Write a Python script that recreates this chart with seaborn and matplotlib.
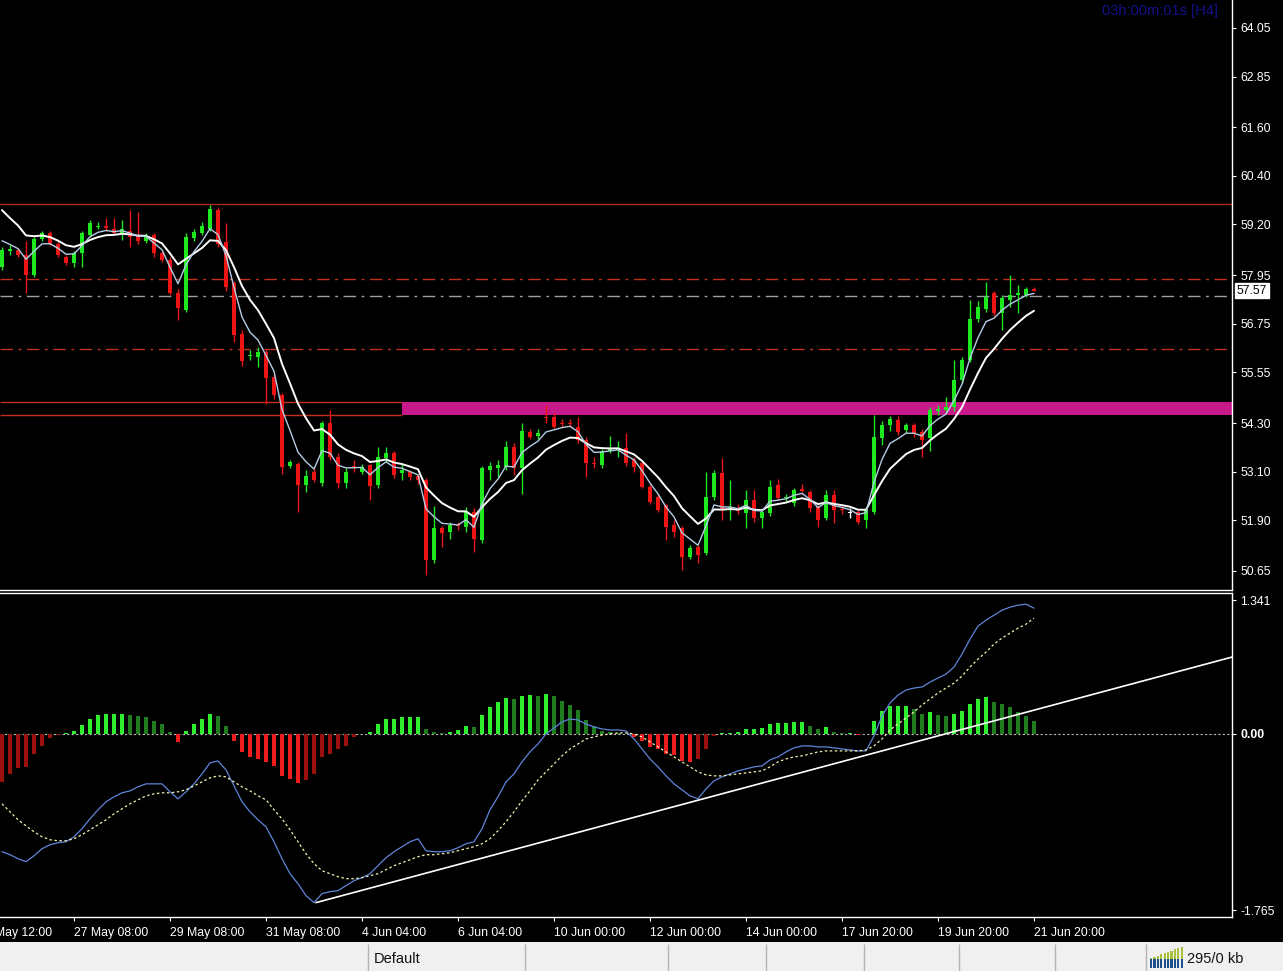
import numpy as np
import pandas as pd
import matplotlib
matplotlib.use("Agg")
import matplotlib.pyplot as plt
import matplotlib.transforms as mtransforms
import seaborn as sns

# H4 candles, bar 0 is the leftmost visible one
opens = [58.16, 58.55, 58.57, 58.45, 57.95, 58.83, 59.00, 58.73, 58.40, 58.24,
         58.49, 58.95, 59.13, 59.17, 59.08, 58.98, 59.05, 58.92, 58.80, 58.94,
         58.49, 58.33, 57.52, 57.09, 58.86, 59.00, 59.10, 59.56, 58.77, 57.75,
         56.50, 55.95, 55.94, 56.06, 55.44, 54.99, 53.24, 53.30, 52.77, 53.10,
         52.81, 54.29, 53.47, 52.81, 53.25, 53.10, 53.26, 52.77, 53.43, 53.55,
         53.06, 53.10, 53.00, 52.90, 50.92, 51.70, 51.62, 51.78, 51.74, 52.11,
         51.41, 53.14, 53.18, 53.22, 53.72, 53.18, 54.09, 53.97, 54.46, 54.46,
         54.30, 54.30, 54.21, 53.88, 53.30, 53.27, 53.60, 53.63, 53.68, 53.39,
         53.31, 52.73, 52.48, 52.28, 51.78, 51.70, 51.00, 51.25, 51.09, 52.48,
         53.06, 52.20, 52.17, 52.07, 52.40, 51.95, 52.07, 52.77, 52.45, 52.32,
         52.67, 52.61, 52.24, 51.95, 52.52, 52.17, 52.08, 52.11, 51.91, 52.11,
         53.92, 54.25, 54.37, 54.13, 54.25, 54.09, 53.92, 54.60, 54.62, 54.70,
         55.36, 55.86, 56.86, 57.11, 57.50, 57.01, 57.34, 57.46, 57.46, 57.62]
highs = [58.65, 58.70, 58.62, 58.80, 58.90, 59.05, 59.05, 58.80, 58.45, 58.55,
         59.03, 59.30, 59.25, 59.35, 59.35, 59.31, 59.55, 59.50, 58.98, 58.98,
         58.55, 58.40, 57.60, 59.00, 59.10, 59.25, 59.68, 59.62, 59.23, 57.80,
         56.60, 56.10, 56.18, 56.12, 55.50, 55.05, 53.40, 53.35, 53.14, 53.20,
         54.35, 54.62, 53.55, 53.20, 53.40, 53.30, 53.30, 53.72, 53.70, 53.60,
         53.30, 53.15, 53.05, 52.95, 52.25, 51.75, 51.85, 51.85, 52.22, 52.20,
         53.25, 53.35, 53.40, 53.85, 53.80, 54.29, 54.15, 54.15, 54.75, 54.55,
         54.40, 54.40, 54.46, 53.95, 53.45, 53.65, 53.98, 53.85, 54.05, 53.45,
         53.35, 52.80, 52.55, 52.30, 51.90, 51.75, 51.30, 51.30, 53.10, 53.14,
         53.43, 52.90, 52.30, 52.65, 52.65, 52.15, 52.90, 52.93, 52.55, 52.70,
         52.80, 52.65, 52.28, 52.65, 52.65, 52.25, 52.20, 52.15, 52.20, 54.50,
         54.35, 54.47, 54.47, 54.30, 54.30, 54.15, 54.70, 54.75, 54.95, 55.86,
         55.94, 57.34, 57.30, 57.77, 57.55, 57.45, 57.95, 57.70, 57.66, 57.66]
lows = [58.08, 58.45, 58.40, 57.50, 57.90, 58.80, 58.70, 58.40, 58.20, 58.15,
        58.16, 58.90, 59.10, 59.05, 58.95, 58.82, 58.65, 58.73, 58.75, 58.40,
        58.28, 57.45, 56.84, 57.05, 58.80, 58.95, 59.05, 58.65, 57.55, 56.30,
        55.70, 55.85, 55.69, 54.78, 54.90, 53.05, 53.20, 52.11, 52.61, 52.85,
        52.75, 53.40, 52.70, 52.70, 53.10, 53.05, 52.40, 52.70, 53.35, 52.95,
        52.90, 52.90, 52.80, 50.55, 50.85, 51.25, 51.45, 51.65, 51.62, 51.13,
        51.35, 52.90, 52.98, 53.15, 53.02, 52.56, 53.90, 53.90, 54.30, 54.15,
        54.20, 54.20, 53.80, 52.98, 53.20, 53.20, 53.55, 53.45, 53.25, 53.10,
        52.70, 52.30, 52.10, 51.41, 51.50, 50.67, 50.95, 50.84, 51.05, 52.40,
        51.90, 51.90, 52.05, 51.70, 51.85, 51.70, 52.00, 52.40, 52.35, 52.25,
        52.55, 52.10, 51.74, 51.90, 51.83, 52.05, 51.95, 51.80, 51.70, 52.05,
        53.76, 54.10, 54.00, 54.05, 53.95, 53.47, 53.60, 54.50, 54.55, 54.60,
        55.30, 55.80, 56.80, 57.05, 56.93, 56.60, 57.17, 57.01, 57.40, 57.55]
closes = [58.57, 58.57, 58.45, 57.95, 58.83, 59.00, 58.73, 58.45, 58.24, 58.49,
          58.98, 59.23, 59.17, 59.12, 58.98, 59.08, 58.90, 58.80, 58.90, 58.49,
          58.33, 57.50, 57.13, 58.90, 59.02, 59.16, 59.57, 58.73, 57.66, 56.47,
          55.82, 55.98, 56.06, 55.40, 54.99, 53.22, 53.35, 52.77, 52.99, 52.90,
          54.29, 53.47, 52.81, 53.10, 53.20, 53.22, 52.75, 53.47, 53.55, 53.02,
          53.14, 52.98, 52.90, 50.92, 51.70, 51.58, 51.78, 51.75, 52.11, 51.45,
          53.18, 53.24, 53.27, 53.72, 53.18, 54.11, 53.95, 54.05, 54.42, 54.21,
          54.27, 54.27, 53.88, 53.31, 53.28, 53.60, 53.65, 53.68, 53.31, 53.22,
          52.73, 52.36, 52.15, 51.74, 51.62, 51.00, 51.21, 51.05, 52.48, 53.06,
          52.15, 52.23, 52.12, 52.40, 51.95, 52.11, 52.73, 52.44, 52.48, 52.65,
          52.63, 52.20, 51.91, 52.52, 52.15, 52.15, 52.08, 51.87, 52.15, 53.96,
          54.25, 54.39, 54.09, 54.25, 54.05, 53.88, 54.62, 54.64, 54.70, 55.36,
          55.86, 56.86, 57.17, 57.40, 57.01, 57.38, 57.46, 57.50, 57.62, 57.57]

# MACD sub window
macd_hist = [-0.48, -0.40, -0.34, -0.33, -0.20, -0.12, -0.04, -0.01, 0.01, 0.03,
             0.09, 0.15, 0.19, 0.20, 0.20, 0.20, 0.19, 0.18, 0.17, 0.13,
             0.10, 0.02, -0.08, 0.03, 0.10, 0.15, 0.20, 0.18, 0.08, -0.07,
             -0.18, -0.23, -0.25, -0.28, -0.32, -0.42, -0.45, -0.49, -0.46, -0.40,
             -0.23, -0.20, -0.15, -0.12, -0.03, 0.00, 0.02, 0.10, 0.15, 0.15,
             0.17, 0.17, 0.17, 0.05, 0.02, 0.01, 0.02, 0.04, 0.08, 0.07,
             0.19, 0.27, 0.32, 0.36, 0.35, 0.38, 0.39, 0.38, 0.40, 0.38,
             0.33, 0.29, 0.24, 0.14, 0.08, 0.03, 0.02, 0.01, 0.00, -0.03,
             -0.07, -0.13, -0.15, -0.20, -0.21, -0.27, -0.28, -0.25, -0.15, -0.02,
             0.005, 0.01, 0.02, 0.05, 0.05, 0.06, 0.10, 0.11, 0.11, 0.12,
             0.12, 0.08, 0.05, 0.07, 0.02, 0.01, 0.01, -0.01, 0.00, 0.13,
             0.23, 0.28, 0.28, 0.28, 0.25, 0.20, 0.22, 0.19, 0.18, 0.20,
             0.23, 0.30, 0.35, 0.37, 0.32, 0.30, 0.27, 0.22, 0.18, 0.13]
macd_main = [-1.18, -1.21, -1.25, -1.28, -1.22, -1.15, -1.11, -1.09, -1.08, -1.03,
             -0.95, -0.85, -0.76, -0.68, -0.63, -0.59, -0.57, -0.53, -0.50, -0.50,
             -0.50, -0.58, -0.65, -0.58, -0.50, -0.40, -0.29, -0.27, -0.36, -0.52,
             -0.68, -0.78, -0.86, -0.93, -1.08, -1.25, -1.40, -1.50, -1.62, -1.69,
             -1.60, -1.58, -1.57, -1.52, -1.47, -1.44, -1.40, -1.32, -1.24, -1.18,
             -1.13, -1.08, -1.05, -1.17, -1.18, -1.18, -1.17, -1.14, -1.10, -1.08,
             -0.95, -0.76, -0.63, -0.48, -0.40, -0.28, -0.18, -0.10, 0.00, 0.06,
             0.12, 0.15, 0.14, 0.10, 0.07, 0.05, 0.04, 0.04, 0.03, -0.05,
             -0.15, -0.25, -0.33, -0.42, -0.50, -0.56, -0.62, -0.65, -0.55, -0.47,
             -0.43, -0.40, -0.37, -0.35, -0.33, -0.32, -0.26, -0.23, -0.18, -0.14,
             -0.12, -0.12, -0.13, -0.13, -0.14, -0.15, -0.16, -0.17, -0.17, -0.02,
             0.18, 0.31, 0.39, 0.44, 0.46, 0.47, 0.52, 0.56, 0.60, 0.67,
             0.80, 0.95, 1.08, 1.14, 1.19, 1.24, 1.27, 1.29, 1.30, 1.26]
macd_signal = [-0.70, -0.78, -0.86, -0.92, -0.98, -1.03, -1.06, -1.07, -1.07, -1.05,
               -1.01, -0.96, -0.91, -0.86, -0.80, -0.75, -0.70, -0.66, -0.62, -0.60,
               -0.59, -0.59, -0.58, -0.56, -0.52, -0.48, -0.44, -0.42, -0.43, -0.48,
               -0.53, -0.57, -0.62, -0.66, -0.76, -0.85, -0.96, -1.08, -1.20, -1.30,
               -1.37, -1.40, -1.43, -1.45, -1.45, -1.44, -1.42, -1.40, -1.36, -1.32,
               -1.29, -1.26, -1.23, -1.21, -1.21, -1.20, -1.19, -1.17, -1.15, -1.13,
               -1.10, -1.05, -0.97, -0.88, -0.78, -0.67, -0.57, -0.46, -0.38, -0.30,
               -0.22, -0.15, -0.10, -0.05, -0.03, -0.01, 0.00, 0.01, 0.01, 0.00,
               -0.03, -0.08, -0.13, -0.18, -0.23, -0.28, -0.33, -0.38, -0.41, -0.42,
               -0.42, -0.41, -0.40, -0.39, -0.38, -0.37, -0.33, -0.28, -0.25, -0.23,
               -0.22, -0.20, -0.18, -0.17, -0.17, -0.17, -0.17, -0.17, -0.16, -0.12,
               -0.05, 0.04, 0.10, 0.16, 0.22, 0.29, 0.35, 0.41, 0.46, 0.51,
               0.58, 0.67, 0.75, 0.82, 0.90, 0.96, 1.01, 1.06, 1.10, 1.16]

# hand drawn objects
resistance_top = 59.71
dashdot_red_levels = [57.86, 56.13]
dashdot_grey_level = 57.44
zone_low, zone_high = 54.50, 54.81
zone_start_bar = 50
trend_bars = [39.25, 153.75]
trend_vals = [-1.69, 0.77]

# moving averages (seeded with the values at the left edge)
fast_span, fast_seed = 4, 58.95
slow_span, slow_seed = 9, 59.80

price_ticks = [64.05, 62.85, 61.60, 60.40, 59.20, 57.95, 56.75, 55.55, 54.30, 53.10, 51.90, 50.65]
macd_ticks = [1.341, 0.0, -1.765]
macd_tick_labels = ["1.341", "0.00", "-1.765"]
time_bars = [9, 21, 33, 45, 57, 69, 81, 93, 105, 117, 129]
time_labels = ["27 May 08:00", "29 May 08:00", "31 May 08:00",
               "4 Jun 04:00", "6 Jun 04:00", "10 Jun 00:00", "12 Jun 00:00",
               "14 Jun 00:00", "17 Jun 20:00", "19 Jun 20:00", "21 Jun 20:00"]
cut_label_bar, cut_label = -3, "24 May 12:00"
last_price = 57.57


def ema(values, span, seed):
    a = 2.0 / (span + 1)
    out, prev = [], seed
    for v in values:
        prev = a * v + (1 - a) * prev
        out.append(prev)
    return np.array(out)


sns.set_theme(style="dark")
plt.rcParams["font.family"] = ["Liberation Sans", "DejaVu Sans"]

df = pd.DataFrame({"o": opens, "h": highs, "l": lows, "c": closes})
df["bar"] = np.arange(len(df))
df["fast"] = ema(df["c"], fast_span, fast_seed)
df["slow"] = ema(df["c"], slow_span, slow_seed)

W, H = 1283, 971
fig = plt.figure(figsize=(W / 100, H / 100), dpi=100, facecolor="black")


def px_axes(x0, y0, x1, y1):
    return fig.add_axes([x0 / W, 1 - y1 / H, (x1 - x0) / W, (y1 - y0) / H])


ax = px_axes(0, 0, 1232, 590)
ax2 = px_axes(0, 593, 1232, 917)
sb = px_axes(0, 942, 1283, 971)

xmin, xmax = -0.25, 153.75
for a in (ax, ax2):
    a.set_facecolor("black")
    a.grid(False)
    for side, sp in a.spines.items():
        sp.set_visible(side != "left")
        sp.set_color("white")
        sp.set_linewidth(1)
    a.yaxis.tick_right()
    a.tick_params(axis="y", colors="white", labelcolor="white", length=3,
                  width=0.8, labelsize=8.8, pad=3, direction="out", right=True)
ax.spines["top"].set_visible(False)

# levels
ax.axhline(resistance_top, color="#b02a1a", lw=1, zorder=1)
for lv in dashdot_red_levels:
    ax.axhline(lv, color="#c0301c", lw=1, ls=(0, (9, 4, 2, 4)), zorder=1)
ax.axhline(dashdot_grey_level, color="#9aa0a6", lw=1, ls=(0, (9, 4, 2, 4)), zorder=1)
ax.hlines([zone_high, zone_low], xmin, zone_start_bar, color="#c0301c", lw=1, zorder=1)
ax.fill_between([zone_start_bar, xmax], zone_low, zone_high, color="#c8198a",
                lw=0, zorder=1)

# candles
up = df["c"] >= df["o"]
flat = (df["c"] - df["o"]).abs() < 1e-9
cols = np.where(flat, "white", np.where(up, "#1ee81e", "#ee1414"))
ax.vlines(df["bar"], df["l"], df["h"], colors=cols, lw=1, zorder=2)
body_lo = np.minimum(df["o"], df["c"])
body_h = np.maximum((df["c"] - df["o"]).abs(), 0.035)
ax.bar(df["bar"], body_h, bottom=body_lo, width=0.62, color=cols, lw=0, zorder=3)

sns.lineplot(data=df, x="bar", y="slow", ax=ax, color="white", lw=1.4, zorder=4)
sns.lineplot(data=df, x="bar", y="fast", ax=ax, color="#b4cde6", lw=1.0, zorder=5)

ax.set_yticks(price_ticks)
ax.set_yticklabels([f"{p:.2f}" for p in price_ticks])
ax.set_xticks([])
ax.set_xlabel("")
ax.set_ylabel("")

fig.text(1218 / W, 1 - 11 / H, "03h:00m:01s [H4]", ha="right", va="center",
         color="#12128c", fontsize=10.5)

# MACD
h = np.array(macd_hist)
prev = np.r_[h[0] - 0.01, h[:-1]]
rising = h >= prev
hcols = np.where(h >= 0, np.where(rising, "#2ef02e", "#1f7d1f"),
                 np.where(rising, "#9c0f0f", "#ee1c1c"))
ax2.axhline(0, color="#b8b8b8", lw=0.8, ls=(0, (2, 2)), zorder=1)
ax2.bar(df["bar"], h, width=0.42, color=hcols, lw=0, zorder=2)
sns.lineplot(x=df["bar"], y=macd_main, ax=ax2, color="#5f85d8", lw=0.9, zorder=3)
ax2.plot(df["bar"], macd_signal, color="#f2f2b0", lw=0.9, ls=(0, (2, 2)), zorder=3)
ax2.plot(trend_bars, trend_vals, color="white", lw=1.2, zorder=4)

ax2.set_yticks(macd_ticks)
ax2.set_yticklabels(macd_tick_labels)
ax2.get_yticklabels()[1].set_fontweight("bold")
ax2.set_xticks(time_bars)
ax2.set_xticklabels(time_labels)
ax2.tick_params(axis="x", colors="white", labelcolor="white", length=3, width=0.8,
                labelsize=8.8, pad=4, direction="out", bottom=True)
for lbl in ax2.get_xticklabels():
    lbl.set_ha("left")
ax2.set_xlabel("")
ax2.set_ylabel("")

# limits last, so ticks outside the view do not stretch it
for a in (ax, ax2):
    a.set_xlim(xmin, xmax)
ax.set_ylim(50.18, 64.74)
ax2.set_ylim(-1.834, 1.412)

# the first time label sits left of the view and is cut by the window edge
xtrans = mtransforms.blended_transform_factory(ax2.transData, ax2.transAxes)
ax2.text(cut_label_bar, 0, cut_label, transform=xtrans + mtransforms.ScaledTranslation(0, -7 / 72, fig.dpi_scale_trans),
         ha="left", va="top", fontsize=8.8, color="white", clip_on=False)

trans = mtransforms.blended_transform_factory(ax.transAxes, ax.transData)
ax.text(1.004, last_price, f"{last_price:.2f}", transform=trans, va="center", ha="left",
        fontsize=8.8, color="black", zorder=10,
        bbox=dict(facecolor="white", edgecolor="white", pad=1.2))

# status bar
sb.set_facecolor("#f0f0f0")
sb.set_xlim(0, W)
sb.set_ylim(0, 29)
sb.set_xticks([])
sb.set_yticks([])
for sp in sb.spines.values():
    sp.set_visible(False)
sb.vlines([368, 525, 668, 766, 864, 959, 1055, 1146], 0, 27, color="#b4b4b4", lw=1)
sb.text(374, 12, "Default", fontsize=10.5, va="center", ha="left", color="#111111")
sb.text(1187, 12, "295/0 kb", fontsize=10.5, va="center", ha="left", color="#111111")
icon_x = np.arange(1151, 1183, 3.4)
icon_tops = np.linspace(13, 24, len(icon_x))
sb.bar(icon_x, 9, bottom=3, width=2.2, color="#1d4f8a", lw=0)
sb.bar(icon_x, icon_tops - 12, bottom=12, width=2.2, color="#a8c03a", lw=0)

fig.savefig("out.png", dpi=100, facecolor="black")
